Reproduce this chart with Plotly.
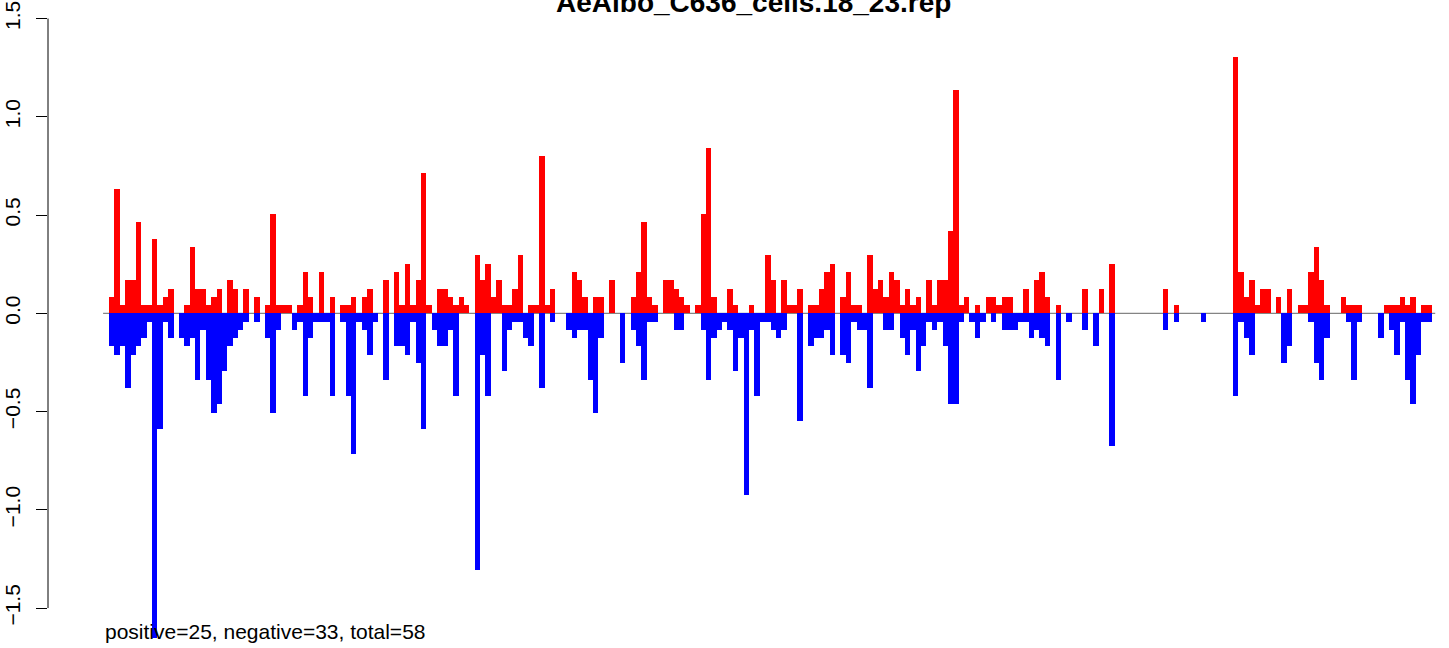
import plotly.graph_objects as go

title_text = "AeAlbo_C636_cells.18_23.rep"
footer_text = "positive=25, negative=33, total=58"

pos_vals = [
    0.084, 0.632, 0.042, 0.168, 0.168, 0.463, 0.042, 0.042, 0.379, 0.042,
    0.084, 0.126, 0, 0, 0.042, 0.337, 0.126, 0.126, 0.042, 0.084,
    0.126, 0, 0.168, 0.126, 0, 0.126, 0, 0.084, 0, 0.042,
    0.505, 0.042, 0.042, 0.042, 0, 0.042, 0.211, 0.084, 0, 0.211,
    0, 0.084, 0, 0.042, 0.042, 0.084, 0, 0.084, 0.126, 0,
    0, 0.168, 0, 0.211, 0.042, 0.253, 0.042, 0.168, 0.716, 0.042,
    0, 0.126, 0.126, 0.084, 0.042, 0.084, 0.042, 0, 0.295, 0.168,
    0.253, 0.084, 0.168, 0.042, 0.042, 0.126, 0.295, 0, 0.042, 0.042,
    0.800, 0.042, 0.126, 0, 0, 0, 0.211, 0.168, 0.084, 0,
    0.084, 0.084, 0, 0.168, 0, 0, 0, 0.084, 0.211, 0.463,
    0.084, 0.042, 0, 0.168, 0.168, 0.126, 0.084, 0.042, 0, 0.042,
    0.505, 0.842, 0.084, 0, 0, 0.126, 0.042, 0, 0, 0.042,
    0, 0, 0.295, 0.168, 0, 0.168, 0.042, 0.042, 0.126, 0,
    0.042, 0.042, 0.126, 0.211, 0.253, 0, 0.084, 0.211, 0.042, 0.042,
    0, 0.295, 0.126, 0.168, 0.084, 0.211, 0.168, 0.042, 0.126, 0.042,
    0.084, 0, 0.168, 0.042, 0.168, 0.168, 0.421, 1.137, 0.042, 0.084,
    0, 0.042, 0, 0.084, 0.084, 0.042, 0.084, 0.084, 0, 0,
    0.126, 0, 0.168, 0.211, 0.084, 0, 0.042, 0, 0, 0,
    0, 0.126, 0, 0, 0.126, 0, 0.253, 0, 0, 0,
    0, 0, 0, 0, 0, 0, 0.126, 0, 0.042, 0,
    0, 0, 0, 0, 0, 0, 0, 0, 0, 1.305,
    0.211, 0.084, 0.168, 0.042, 0.126, 0.126, 0, 0.084, 0, 0.126,
    0, 0.042, 0.042, 0.211, 0.337, 0.168, 0.042, 0, 0, 0.084,
    0.042, 0.042, 0.042, 0, 0, 0, 0, 0.042, 0.042, 0.042,
    0.084, 0.042, 0.084, 0, 0.042, 0.042,
]

neg_vals = [
    -0.168, -0.211, -0.168, -0.379, -0.211, -0.168, -0.126, -0.042, -1.65, -0.589,
    -0.042, -0.126, 0, -0.126, -0.168, -0.126, -0.337, -0.084, -0.337, -0.505,
    -0.463, -0.295, -0.168, -0.126, -0.084, -0.042, 0, -0.042, 0, -0.126,
    -0.505, -0.084, 0, 0, -0.084, -0.042, -0.421, -0.126, -0.042, -0.042,
    -0.042, -0.421, 0, -0.042, -0.421, -0.716, -0.042, -0.084, -0.211, -0.042,
    0, -0.337, 0, -0.168, -0.168, -0.211, -0.042, -0.253, -0.589, 0,
    -0.084, -0.168, -0.168, -0.084, -0.421, 0, 0, 0, -1.305, -0.211,
    -0.421, 0, 0, -0.295, -0.084, -0.042, -0.042, -0.126, -0.168, 0,
    -0.379, 0, -0.042, 0, 0, -0.084, -0.126, -0.084, -0.084, -0.337,
    -0.505, -0.126, 0, 0, 0, -0.253, 0, -0.084, -0.168, -0.337,
    -0.042, -0.042, 0, 0, 0, -0.084, -0.084, 0, 0, 0,
    -0.084, -0.337, -0.126, -0.084, -0.042, -0.084, -0.295, -0.126, -0.926, -0.084,
    -0.421, -0.042, -0.042, -0.084, -0.126, -0.084, 0, 0, -0.547, 0,
    -0.168, -0.126, -0.126, -0.084, -0.211, 0, -0.211, -0.253, -0.042, -0.084,
    -0.084, -0.379, 0, 0, -0.084, -0.084, 0, -0.126, -0.211, -0.084,
    -0.295, -0.168, -0.042, -0.084, -0.042, -0.168, -0.463, -0.463, -0.042, 0,
    -0.042, -0.126, -0.042, 0, -0.042, 0, -0.084, -0.084, -0.084, -0.042,
    -0.042, -0.126, -0.084, -0.126, -0.168, 0, -0.337, 0, -0.042, 0,
    0, -0.084, 0, -0.168, 0, 0, -0.674, 0, 0, 0,
    0, 0, 0, 0, 0, 0, -0.084, 0, -0.042, 0,
    0, 0, 0, -0.042, 0, 0, 0, 0, 0, -0.421,
    -0.042, -0.126, -0.211, 0, 0, 0, 0, 0, -0.253, -0.168,
    0, 0, 0, -0.042, -0.253, -0.337, -0.126, 0, 0, 0,
    -0.042, -0.337, -0.042, 0, 0, 0, -0.126, 0, -0.084, -0.211,
    -0.042, -0.337, -0.463, -0.211, -0.042, -0.042,
]

y_ticks = [-1.5, -1.0, -0.5, 0.0, 0.5, 1.0, 1.5]
y_tick_labels = ["\u22121.5", "\u22121.0", "\u22120.5", "0.0", "0.5", "1.0", "1.5"]

n = len(pos_vals)
positions = list(range(n))

W, H = 1449, 648
ml = 48  # axis line pixel
first_px, last_px = 109.0, 1432.0
ppu = (last_px - first_px) / n
x0 = -0.5 - (first_px - ml) / ppu
x1 = x0 + (W - ml) / ppu

zero_px = 313.3
ppy = 196.5
y_top = zero_px / ppy
y_bot = -(H - zero_px) / ppy

fig = go.Figure()
fig.add_trace(go.Bar(x=positions, y=pos_vals, marker=dict(color="#FF0000", line=dict(width=0)),
                     width=1.0, hoverinfo="x+y", name="positive"))
fig.add_trace(go.Bar(x=positions, y=neg_vals, marker=dict(color="#0000FF", line=dict(width=0)),
                     width=1.0, hoverinfo="x+y", name="negative"))

fig.add_shape(type="line", xref="x", yref="y", x0=-1.6, x1=246.1, y0=0, y1=0,
              line=dict(color="#666666", width=1), layer="below")
# y axis line from first to last tick (R style)
fig.add_shape(type="line", xref="paper", yref="y", x0=0, x1=0, y0=-1.5, y1=1.5,
              line=dict(color="black", width=1))

fig.add_annotation(text="<b>" + title_text + "</b>", x=(754 - ml) / (W - ml), xref="paper",
                   y=1 - 2.0 / H, yref="paper", xanchor="center", yanchor="middle",
                   showarrow=False, font=dict(family="Liberation Sans, Arial", size=28, color="black"))
fig.add_annotation(text=footer_text, x=(103 - ml) / (W - ml), xref="paper",
                   y=(H - 631) / H, yref="paper", xanchor="left", yanchor="middle",
                   showarrow=False, font=dict(family="Liberation Sans, Arial", size=21, color="black"))

fig.update_layout(
    width=W, height=H,
    margin=dict(l=ml, r=0, t=0, b=0, autoexpand=False),
    paper_bgcolor="white", plot_bgcolor="white",
    barmode="overlay", bargap=0,
    showlegend=False,
    xaxis=dict(range=[x0, x1], visible=False, fixedrange=True, automargin=False),
    yaxis=dict(range=[y_bot, y_top], tickmode="array", tickvals=y_ticks, ticktext=y_tick_labels,
               ticks="outside", ticklen=11, tickcolor="black", tickangle=-90, automargin=False,
               ticklabelstandoff=8,
               showgrid=False, zeroline=False, showline=False, fixedrange=True,
               tickfont=dict(family="Liberation Sans, Arial", size=21, color="black")),
    font=dict(family="Liberation Sans, Arial"),
)

fig.write_html("out.html", config={"displayModeBar": False},
               post_script="document.body.style.margin='0';document.body.style.overflow='hidden';")
